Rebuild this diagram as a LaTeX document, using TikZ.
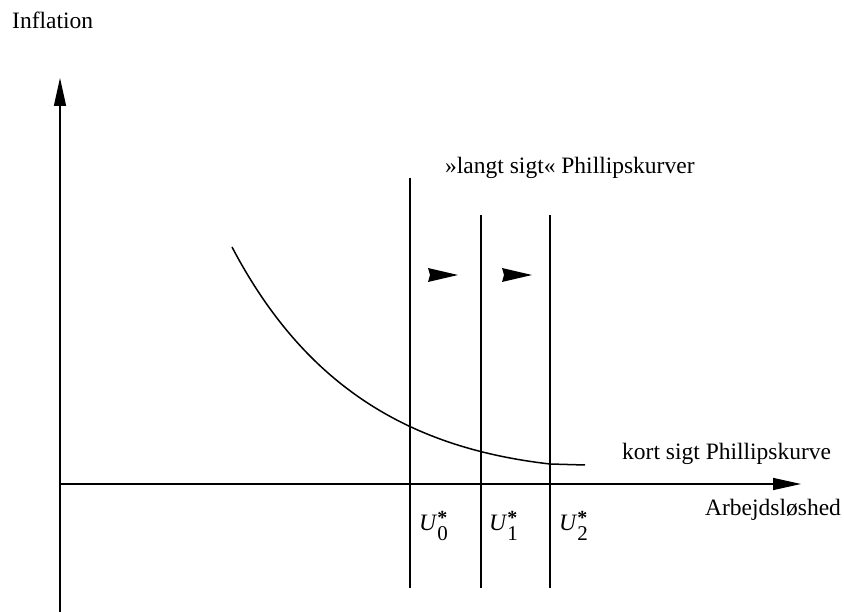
\documentclass[tikz,border=0pt]{standalone}
\usepackage{fontspec}
\setmainfont{Liberation Serif}
\usetikzlibrary{arrows.meta}
\newcommand{\ulab}[1]{\textit{U}\makebox[0pt][l]{\raisebox{6pt}{\fontsize{20}{20}\selectfont\textbf{*}}}\raisebox{-10pt}{\fontsize{21}{21}\selectfont #1}}
\begin{document}
\begin{tikzpicture}[x=1pt,y=-1pt,
  lbl/.style={font=\fontsize{23.5}{28}\selectfont, inner sep=0pt},
  axis/.style={line width=1.5pt, -{Triangle[length=28pt,width=12pt]}},
  lrline/.style={line width=1.5pt},
  flag/.style={fill=black}]
\useasboundingbox (0,0) rectangle (844,612);
% axes
\coordinate (O) at (60,484);
\coordinate (ybot) at (60,612);
\coordinate (ytop) at (60,78);
\coordinate (xend) at (801,484);
\draw[axis] (ybot) -- (ytop);
\draw[axis] (O) -- (xend);
% long-run vertical lines
\coordinate (a0) at (410,178); \coordinate (b0) at (410,588);
\coordinate (a1) at (481,215); \coordinate (b1) at (481,588);
\coordinate (a2) at (550,215); \coordinate (b2) at (550,588);
\draw[lrline] (a0) -- (b0);
\draw[lrline] (a1) -- (b1);
\draw[lrline] (a2) -- (b2);
% flags
\fill[flag] (428,268) -- (458,275) -- (428,282) -- (430,275) -- cycle;
\fill[flag] (502,268) -- (532,275) -- (502,282) -- (504,275) -- cycle;
% short-run curve
\coordinate (cs) at (232,247);
\coordinate (ce) at (550,464);
\coordinate (cf) at (585,465);
\draw[line width=1.5pt] (cs) .. controls (305.5,387) and (410,448) .. (ce) -- (cf);
% labels
\node[lbl, anchor=base west] (infl) at (12,29) {Inflation};
\node[lbl, anchor=base west] (lang) at (445,174) {»langt sigt« Phillipskurver};
\node[lbl, anchor=base west] (kort) at (622,460) {kort sigt Phillipskurve};
\node[lbl, anchor=base west] (arb) at (705,515) {Arbejdsløshed};
\node[lbl, anchor=base west] (u0) at (419,530) {\ulab{0}};
\node[lbl, anchor=base west] (u1) at (489,530) {\ulab{1}};
\node[lbl, anchor=base west] (u2) at (559,530) {\ulab{2}};
\end{tikzpicture}
\end{document}
